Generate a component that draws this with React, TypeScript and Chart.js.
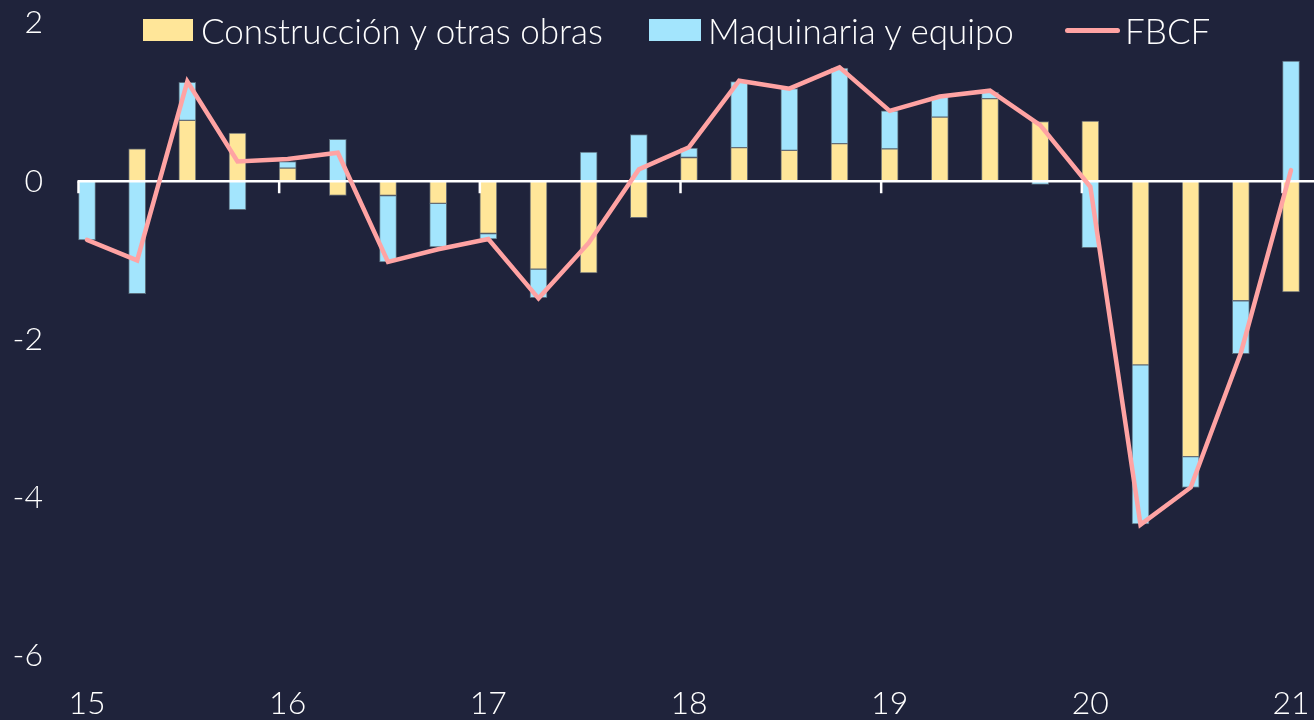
import React, { useEffect, useRef } from "react";
import { Chart, registerables } from "chart.js";

Chart.register(...registerables);

// Quarterly categories 2015Q1 .. 2021Q1
const quarters = [
  "15T1", "15T2", "15T3", "15T4",
  "16T1", "16T2", "16T3", "16T4",
  "17T1", "17T2", "17T3", "17T4",
  "18T1", "18T2", "18T3", "18T4",
  "19T1", "19T2", "19T3", "19T4",
  "20T1", "20T2", "20T3", "20T4",
  "21T1",
];
const yearLabels = ["15", "16", "17", "18", "19", "20", "21"];

const construccion = [
  0.0, 0.41, 0.77, 0.61,
  0.165, -0.18, -0.18, -0.28,
  -0.66, -1.11, -1.16, -0.46,
  0.3, 0.425, 0.39, 0.475,
  0.41, 0.81, 1.045, 0.755,
  0.76, -2.32, -3.48, -1.51,
  -1.4,
];
const maquinaria = [
  -0.74, -1.42, 0.48, -0.36,
  0.085, 0.53, -0.84, -0.55,
  -0.07, -0.36, 0.37, 0.59,
  0.12, 0.835, 0.78, 0.955,
  0.48, 0.26, 0.08, -0.04,
  -0.84, -2.01, -0.39, -0.67,
  1.52,
];
const fbcf = [
  -0.74, -1.0, 1.26, 0.25,
  0.28, 0.36, -1.02, -0.86,
  -0.73, -1.48, -0.78, 0.15,
  0.43, 1.27, 1.17, 1.44,
  0.89, 1.07, 1.145, 0.71,
  -0.07, -4.34, -3.87, -2.17,
  0.14,
];
const yMin = -6;
const yMax = 2;
const yStep = 2;

const seriesNames = ["Construcción y otras obras", "Maquinaria y equipo", "FBCF"];

const BG = "#1F233B";
const YELLOW = "#FFE699";
const BLUE = "#A3E5FD";
const PINK = "#FFA3A3";
const FONT = "Lato, 'Open Sans', sans-serif";
const BAR_W = 17;

const zeroAxisPlugin = {
  id: "zeroAxis",
  beforeDatasetDraw(chart: any, args: any) {
    if (args.meta.type !== "line") return;
    const x = chart.scales.x;
    const y = chart.scales.y;
    const ctx = chart.ctx;
    const y0 = y.getPixelForValue(0);
    const xStart = x.getPixelForValue(0) - BAR_W / 2 - 1;
    ctx.save();
    ctx.strokeStyle = "#FFFFFF";
    ctx.lineWidth = 2.5;
    ctx.beginPath();
    ctx.moveTo(xStart, y0);
    ctx.lineTo(chart.width, y0);
    ctx.stroke();
    for (let i = 0; i < quarters.length; i += 4) {
      const tx = x.getPixelForValue(i) - BAR_W / 2;
      ctx.beginPath();
      ctx.moveTo(tx, y0);
      ctx.lineTo(tx, y0 + 12);
      ctx.stroke();
    }
    ctx.restore();
  },
};

export default function App() {
  const canvasRef = useRef<HTMLCanvasElement | null>(null);

  useEffect(() => {
    document.body.style.margin = "0";
    document.body.style.background = BG;
    const canvas = canvasRef.current;
    if (!canvas) return;
    const chart = new Chart(canvas, {
      type: "bar",
      data: {
        labels: quarters,
        datasets: [
          {
            type: "line",
            label: seriesNames[2],
            data: fbcf,
            borderColor: PINK,
            backgroundColor: PINK,
            borderWidth: 4.5,
            pointRadius: 0,
            tension: 0,
            stack: "line",
            order: 0,
            clip: false,
            borderCapStyle: "round",
          } as any,
          {
            type: "bar",
            label: seriesNames[0],
            data: construccion,
            backgroundColor: YELLOW,
            borderColor: "rgba(110,115,120,0.9)",
            borderWidth: 1,
            borderSkipped: false,
            barThickness: BAR_W,
            stack: "bars",
            order: 1,
            clip: false,
          } as any,
          {
            type: "bar",
            label: seriesNames[1],
            data: maquinaria,
            backgroundColor: BLUE,
            borderColor: "rgba(95,115,130,0.9)",
            borderWidth: 1,
            borderSkipped: false,
            barThickness: BAR_W,
            stack: "bars",
            order: 2,
            clip: false,
          } as any,
        ],
      },
      options: {
        responsive: false,
        animation: false,
        layout: { padding: { top: 23, right: 23, bottom: 0, left: 0 } },
        plugins: {
          legend: { display: false },
          tooltip: { enabled: false },
        },
        scales: {
          x: {
            offset: false,
            stacked: true,
            grid: { display: false, drawTicks: false },
            border: { display: false },
            ticks: {
              autoSkip: false,
              maxRotation: 0,
              padding: 28,
              color: "#FFFFFF",
              font: { family: FONT, size: 32, weight: 300 },
              callback: (_v: any, i: number) => (i % 4 === 0 ? yearLabels[i / 4] : ""),
            },
            afterFit: (s: any) => {
              s.height = 64;
              s.paddingLeft = 0;
              s.paddingRight = 0;
            },
          },
          y: {
            stacked: true,
            min: yMin,
            max: yMax,
            grid: { display: false, drawTicks: false },
            border: { display: false },
            ticks: {
              stepSize: yStep,
              padding: 44,
              color: "#FFFFFF",
              font: { family: FONT, size: 32, weight: 300 },
            },
            afterFit: (s: any) => {
              s.width = 87;
              s.paddingTop = 0;
              s.paddingBottom = 0;
            },
          },
        },
      },
      plugins: [zeroAxisPlugin],
    });
    return () => chart.destroy();
  }, []);

  const textStyle: React.CSSProperties = {
    fontFamily: FONT,
    fontWeight: 300,
    fontSize: 35,
    lineHeight: 1,
    color: "#FFFFFF",
    whiteSpace: "nowrap",
  };
  const itemStyle = (left: number): React.CSSProperties => ({
    position: "absolute",
    left,
    top: 0,
    height: 60,
    display: "flex",
    alignItems: "center",
  });

  return (
    <div style={{ position: "relative", width: 1314, height: 720, background: BG, overflow: "hidden" }}>
      <canvas ref={canvasRef} width={1314} height={720} style={{ display: "block" }} />
      <div style={itemStyle(143)}>
        <span style={{ width: 50, height: 22, background: YELLOW, marginRight: 8, display: "inline-block" }} />
        <span style={textStyle}>{seriesNames[0]}</span>
      </div>
      <div style={itemStyle(649)}>
        <span style={{ width: 52, height: 22, background: BLUE, marginRight: 7, display: "inline-block" }} />
        <span style={textStyle}>{seriesNames[1]}</span>
      </div>
      <div style={itemStyle(1065)}>
        <span style={{ width: 55, height: 5, borderRadius: 3, background: PINK, marginRight: 5, display: "inline-block" }} />
        <span style={textStyle}>{seriesNames[2]}</span>
      </div>
    </div>
  );
}
